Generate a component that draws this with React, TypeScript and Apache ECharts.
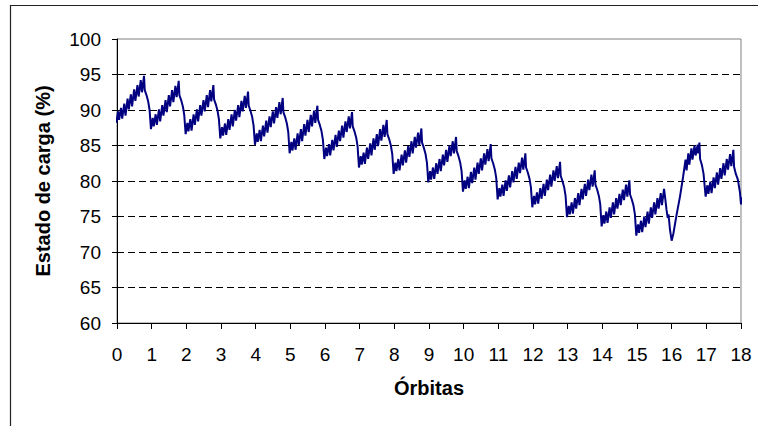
import React, { useEffect, useRef } from "react";
import * as echarts from "echarts";

// Position of each sample inside one orbit (fraction of an orbit)
const orbitPhase = [-0.02, 0.03, 0.06, 0.115, 0.15, 0.21, 0.245, 0.305, 0.34, 0.4, 0.435, 0.495, 0.53, 0.59, 0.625, 0.685, 0.72, 0.78, 0.8, 0.85, 0.9, 0.94];

// State of charge (%) per orbit: charging sawtooth, then eclipse discharge
const soc00 = [88.2, 89.8, 88.6, 90.3, 88.8, 90.9, 89.2, 91.6, 90.1, 92.2, 90.5, 92.9, 91.3, 93.5, 91.9, 94.2, 92.5, 94.8, 92.8, 92.1, 91.2, 90.0];
const soc01 = [87.3, 88.9, 87.7, 89.4, 87.9, 90.1, 88.4, 90.7, 89.2, 91.4, 89.7, 92.1, 90.5, 92.8, 91.1, 93.4, 91.8, 94.1, 92.1, 91.4, 90.5, 89.3];
const soc02 = [86.6, 88.2, 87.0, 88.7, 87.1, 89.4, 87.9, 90.1, 88.4, 90.7, 89.2, 91.4, 89.8, 92.1, 90.4, 92.8, 91.2, 93.5, 91.5, 90.8, 89.9, 88.7];
const soc03 = [86.0, 87.6, 86.4, 88.1, 86.5, 88.7, 87.2, 89.4, 87.7, 90.0, 88.5, 90.7, 89.0, 91.3, 89.8, 92.0, 90.3, 92.6, 90.6, 89.9, 89.0, 87.8];
const soc04 = [85.1, 86.7, 85.5, 87.2, 85.6, 87.8, 86.3, 88.5, 86.8, 89.1, 87.6, 89.8, 88.1, 90.4, 88.9, 91.1, 89.4, 91.7, 89.7, 89.0, 88.1, 86.9];
const soc05 = [83.9, 85.5, 84.3, 86.0, 84.4, 86.7, 85.1, 87.3, 85.6, 88.0, 86.4, 88.6, 86.9, 89.3, 87.7, 89.9, 88.2, 90.6, 88.6, 87.9, 87.0, 85.8];
const soc06 = [83.1, 84.7, 83.5, 85.2, 83.6, 85.8, 84.3, 86.5, 84.8, 87.1, 85.6, 87.8, 86.1, 88.4, 86.9, 89.1, 87.4, 89.7, 87.7, 87.0, 86.1, 84.9];
const soc07 = [81.9, 83.5, 82.3, 84.0, 82.4, 84.7, 83.1, 85.3, 83.6, 86.0, 84.4, 86.6, 84.9, 87.3, 85.7, 87.9, 86.2, 88.6, 86.6, 85.9, 85.0, 83.8];
const soc08 = [81.0, 82.6, 81.4, 83.1, 81.5, 83.7, 82.2, 84.3, 82.6, 84.9, 83.4, 85.6, 83.9, 86.2, 84.7, 86.8, 85.1, 87.4, 85.4, 84.7, 83.8, 82.6];
const soc09 = [79.8, 81.4, 80.2, 81.9, 80.3, 82.5, 81.0, 83.1, 81.4, 83.7, 82.2, 84.4, 82.7, 85.0, 83.5, 85.6, 83.9, 86.2, 84.2, 83.5, 82.6, 81.4];
const soc10 = [78.5, 80.1, 78.9, 80.6, 79.0, 81.3, 79.7, 81.9, 80.2, 82.6, 81.0, 83.2, 81.5, 83.9, 82.3, 84.5, 82.8, 85.2, 83.2, 82.5, 81.6, 80.4];
const soc11 = [77.4, 79.0, 77.8, 79.5, 77.9, 80.1, 78.6, 80.8, 79.1, 81.4, 79.8, 82.0, 80.3, 82.6, 81.1, 83.3, 81.6, 83.9, 81.9, 81.2, 80.3, 79.1];
const soc12 = [76.3, 77.9, 76.7, 78.4, 76.8, 79.0, 77.5, 79.6, 77.9, 80.2, 78.7, 80.9, 79.2, 81.5, 80.0, 82.1, 80.4, 82.7, 80.7, 80.0, 79.1, 77.9];
const soc13 = [74.9, 76.5, 75.3, 77.0, 75.4, 77.6, 76.1, 78.3, 76.6, 78.9, 77.4, 79.6, 77.9, 80.2, 78.7, 80.9, 79.2, 81.5, 79.5, 78.8, 77.9, 76.7];
const soc14 = [73.6, 75.2, 74.0, 75.7, 74.1, 76.3, 74.8, 77.0, 75.3, 77.6, 76.1, 78.2, 76.6, 78.8, 77.3, 79.5, 77.8, 80.1, 78.1, 77.4, 76.5, 75.3];

// Orbit 15: longer eclipse at the end
const orbit15Phase = [-0.02, 0.03, 0.06, 0.115, 0.15, 0.21, 0.245, 0.305, 0.34, 0.4, 0.435, 0.495, 0.53, 0.59, 0.625, 0.685, 0.72, 0.78, 0.82, 0.85, 0.885, 0.91, 0.95];
const soc15 = [72.3, 73.9, 72.7, 74.4, 72.8, 75.0, 73.5, 75.7, 74.0, 76.3, 74.8, 77.0, 75.3, 77.6, 76.1, 78.3, 76.6, 78.9, 77.3, 76.0, 74.8, 75.3, 73.2];

// Orbit 16: fast recharge
const orbit16Phase = [0.0, 0.05, 0.14, 0.24, 0.33, 0.4, 0.43, 0.48, 0.51, 0.57, 0.6, 0.66, 0.69, 0.75, 0.77, 0.8, 0.82, 0.87, 0.92];
const soc16 = [71.6, 72.6, 75.2, 77.8, 80.6, 83.0, 81.5, 83.9, 82.3, 84.6, 83.0, 85.0, 83.6, 85.1, 83.9, 85.4, 83.1, 82.3, 81.0];

// Orbit 17: last orbit, running up to the end of the axis
const orbit17Phase = [-0.02, 0.03, 0.06, 0.115, 0.15, 0.21, 0.245, 0.305, 0.34, 0.4, 0.435, 0.495, 0.53, 0.59, 0.625, 0.685, 0.72, 0.78, 0.8, 0.85, 0.91, 0.97, 1.0, 1.03];
const soc17 = [77.8, 79.4, 78.2, 79.9, 78.3, 80.5, 79.0, 81.2, 79.5, 81.8, 80.3, 82.5, 80.8, 83.1, 81.6, 83.8, 82.1, 84.4, 82.0, 81.0, 80.2, 78.4, 76.7, 77.7];

const standardOrbits = [soc00, soc01, soc02, soc03, soc04, soc05, soc06, soc07, soc08, soc09, soc10, soc11, soc12, soc13, soc14];

const FONT = "Arial, 'Liberation Sans', sans-serif";

function buildPoints(): number[][] {
  const pts: number[][] = [];
  standardOrbits.forEach((vals, n) => {
    vals.forEach((v, i) => pts.push([n + orbitPhase[i], v]));
  });
  soc15.forEach((v, i) => pts.push([15 + orbit15Phase[i], v]));
  soc16.forEach((v, i) => pts.push([16 + orbit16Phase[i], v]));
  soc17.forEach((v, i) => pts.push([17 + orbit17Phase[i], v]));
  return pts;
}

export default function App() {
  const ref = useRef<HTMLDivElement>(null);

  useEffect(() => {
    if (!ref.current) return;
    const chart = echarts.init(ref.current, null, { renderer: "svg" });
    chart.setOption({
      animation: false,
      backgroundColor: "#ffffff",
      grid: {
        left: 117,
        right: 17,
        top: 39,
        bottom: 103,
        show: true,
        borderColor: "#808080",
        borderWidth: 1,
        backgroundColor: "#ffffff",
      },
      xAxis: {
        type: "value",
        min: 0,
        max: 18,
        interval: 1,
        axisLine: { show: true, lineStyle: { color: "#000", width: 1 } },
        axisTick: { show: true, length: 6, lineStyle: { color: "#000" } },
        axisLabel: { color: "#000", fontSize: 19, fontFamily: FONT, margin: 22 },
        splitLine: { show: false },
      },
      yAxis: {
        type: "value",
        min: 60,
        max: 100,
        interval: 5,
        axisLine: { show: true, lineStyle: { color: "#000", width: 1 } },
        axisTick: { show: true, length: 5, lineStyle: { color: "#000" } },
        axisLabel: { color: "#000", fontSize: 19, fontFamily: FONT, margin: 16 },
        splitLine: {
          show: true,
          showMinLine: false,
          showMaxLine: false,
          lineStyle: { color: "#000", width: 1, type: [7, 4] },
        },
      },
      series: [
        {
          type: "line",
          data: buildPoints(),
          showSymbol: false,
          symbol: "none",
          lineStyle: { color: "#000080", width: 2 },
          itemStyle: { color: "#000080" },
          z: 5,
        },
      ],
      graphic: [
        {
          type: "rect",
          silent: true,
          shape: { x: 10.5, y: 5.5, width: 800, height: 500 },
          style: { fill: "none", stroke: "#222", lineWidth: 1.2 },
        },
        {
          type: "text",
          x: 43,
          y: 181,
          rotation: Math.PI / 2,
          style: {
            text: "Estado de carga (%)",
            font: `bold 20px ${FONT}`,
            fill: "#000",
            align: "center",
            verticalAlign: "middle",
          },
        },
        {
          type: "text",
          x: 429,
          y: 388,
          style: {
            text: "Órbitas",
            font: `bold 20px ${FONT}`,
            fill: "#000",
            align: "center",
            verticalAlign: "middle",
          },
        },
      ],
    });
    return () => chart.dispose();
  }, []);

  return (
    <div
      ref={ref}
      style={{ position: "absolute", left: 0, top: 0, width: 758, height: 426, background: "#fff" }}
    />
  );
}
